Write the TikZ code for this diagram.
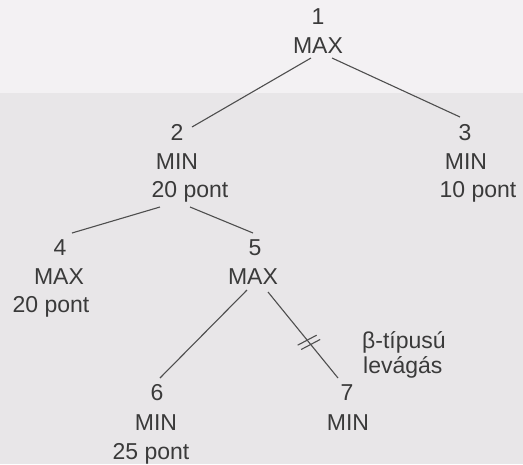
\documentclass[tikz,border=0pt]{standalone}
\usepackage{fontspec}
\setmainfont{Liberation Sans}
\usetikzlibrary{calc}
\definecolor{ink}{HTML}{3A3A3A}
\definecolor{edgeink}{HTML}{4E4E4E}
\definecolor{pagetop}{HTML}{F3F1F3}
\definecolor{pagelow}{HTML}{E8E6E8}
\tikzset{
  lbl/.style={anchor=base, inner sep=0pt, text=ink, font=\fontsize{23}{27}\selectfont},
  edgeline/.style={draw=edgeink, line width=1.1pt},
}
\begin{document}
\begin{tikzpicture}[x=1pt,y=-1pt]
\fill[pagetop] (0,0) rectangle (523,93);
\fill[pagelow] (0,93) rectangle (523,464);
\useasboundingbox (0,0) rectangle (523,464);
% node 1
\node[lbl] (n1) at (318,24) {1};
\node[lbl] (m1) at (318,53) {MAX};
% node 2
\node[lbl] (n2) at (177,140) {2};
\node[lbl] (m2) at (177,169) {MIN};
\node[lbl] (p2) at (190,197) {20 pont};
% node 3
\node[lbl] (n3) at (465,140) {3};
\node[lbl] (m3) at (466,169) {MIN};
\node[lbl] (p3) at (478,197) {10 pont};
% node 4
\node[lbl] (n4) at (60,255) {4};
\node[lbl] (m4) at (59,284) {MAX};
\node[lbl] (p4) at (51,312) {20 pont};
% node 5
\node[lbl] (n5) at (255,255) {5};
\node[lbl] (m5) at (253,284) {MAX};
% node 6
\node[lbl] (n6) at (157,400) {6};
\node[lbl] (m6) at (156,430) {MIN};
\node[lbl] (p6) at (151,459) {25 pont};
% node 7
\node[lbl] (n7) at (347,400) {7};
\node[lbl] (m7) at (348,430) {MIN};
% cut label
\node[lbl, anchor=base west] (cut1) at (362,348) {β-típusú};
\node[lbl, anchor=base west] (cut2) at (363,373) {levágás};
% edges
\draw[edgeline] ($(m1.base)+(-7,5)$) -- ($(n2.base)+(15,-13)$);
\draw[edgeline] ($(m1.base)+(14,5)$) -- ($(n3.base)+(-5,-23)$);
\draw[edgeline] ($(p2.base)+(-30,10)$) -- ($(n4.base)+(12,-22)$);
\draw[edgeline] ($(p2.base)+(0,10)$) -- ($(n5.base)+(-2,-22)$);
\draw[edgeline] ($(m5.base)+(-6,6)$) -- ($(n6.base)+(3,-22)$);
\coordinate (c57a) at ($(m5.base)+(15,8)$);
\coordinate (c57b) at ($(n7.base)+(-9,-22)$);
\draw[edgeline] (c57a) -- (c57b);
% cut marks
\draw[edgeline] ($(c57a)!0.56!(c57b)$) ++(-9.5,5) -- ++(19,-10);
\draw[edgeline] ($(c57a)!0.61!(c57b)$) ++(-9.5,5) -- ++(19,-10);
\end{tikzpicture}
\end{document}
